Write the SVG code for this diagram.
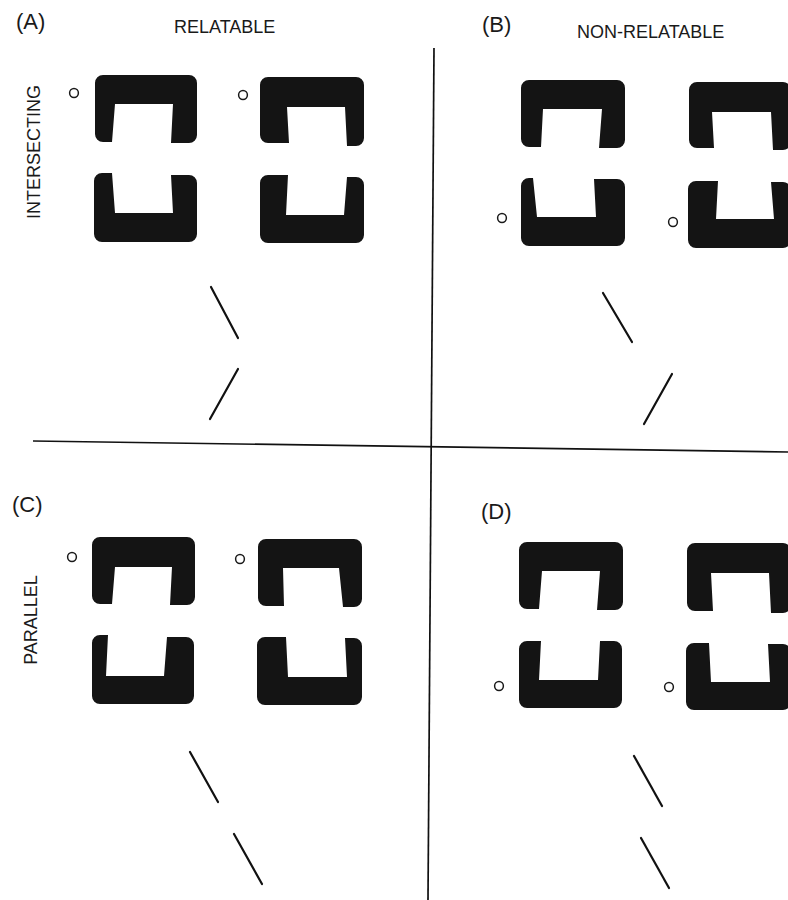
<svg xmlns="http://www.w3.org/2000/svg" width="788" height="900" viewBox="0 0 788 900">
<style>
.bg{fill:#ffffff}
.shape{fill:#141414}
.dot{fill:none;stroke:#1a1a1a;stroke-width:1.5}
.seg{stroke:#111;stroke-width:2.2;stroke-linecap:round;fill:none}
.div{stroke:#111;stroke-width:1.7;fill:none}
.lbl{font-family:"Liberation Sans",Arial,sans-serif;fill:#1a1a1a}
.big{font-size:22px}
.cap{font-size:18px}
</style>
<rect class="bg" x="0" y="0" width="788" height="900"/>
<g id="dividers">
<line class="div" x1="33" y1="441" x2="788" y2="452"/>
<line class="div" x1="434" y1="48" x2="428" y2="900"/>
</g>
<g id="labels">
<text class="lbl big" x="16" y="29">(A)</text>
<text class="lbl cap" x="174" y="33">RELATABLE</text>
<text class="lbl big" x="482" y="32">(B)</text>
<text class="lbl cap" x="577" y="38">NON-RELATABLE</text>
<text class="lbl big" x="12" y="512">(C)</text>
<text class="lbl big" x="481" y="519">(D)</text>
<text class="lbl cap" transform="translate(40,152) rotate(-90)" text-anchor="middle">INTERSECTING</text>
<text class="lbl cap" transform="translate(37,620) rotate(-90)" text-anchor="middle">PARALLEL</text>
</g>
<g id="panel-A">
<circle class="dot" cx="74" cy="93" r="4.4"/>
<path class="shape" d="M103,75 H189 A8,8 0 0 1 197,83 V135 A8,8 0 0 1 189,143 H171 L173,104 H115 L112,142 H103 A8,8 0 0 1 95,134 V83 A8,8 0 0 1 103,75 Z"/>
<path class="shape" d="M94,181 A8,8 0 0 1 102,173 H112 L115,213 H173 L171,175 H189 A8,8 0 0 1 197,183 V234 A8,8 0 0 1 189,242 H102 A8,8 0 0 1 94,234 Z"/>
<circle class="dot" cx="243" cy="95" r="4.4"/>
<path class="shape" d="M268,77 H356 A8,8 0 0 1 364,85 V138 A8,8 0 0 1 356,146 H347 L345,107 H287 L289,143 H268 A8,8 0 0 1 260,135 V85 A8,8 0 0 1 268,77 Z"/>
<path class="shape" d="M260,183 A8,8 0 0 1 268,175 H288 L286,215 H344 L347,177 H356 A8,8 0 0 1 364,185 V235 A8,8 0 0 1 356,243 H268 A8,8 0 0 1 260,235 Z"/>
<line class="seg" x1="211" y1="287" x2="238" y2="338"/>
<line class="seg" x1="238" y1="369" x2="210" y2="419"/>
</g>
<g id="panel-B">
<circle class="dot" cx="502" cy="218" r="4.4"/>
<path class="shape" d="M529,80 H617 A8,8 0 0 1 625,88 V140 A8,8 0 0 1 617,148 H599 L602,109 H543 L541,147 H529 A8,8 0 0 1 521,139 V88 A8,8 0 0 1 529,80 Z"/>
<path class="shape" d="M521,186 A8,8 0 0 1 529,178 H533 L537,217 H596 L594,179 H617 A8,8 0 0 1 625,187 V238 A8,8 0 0 1 617,246 H529 A8,8 0 0 1 521,238 Z"/>
<circle class="dot" cx="673" cy="222" r="4.4"/>
<path class="shape" d="M697,82 H783 A8,8 0 0 1 791,90 V142 A8,8 0 0 1 783,150 H773 L771,112 H712 L714,148 H697 A8,8 0 0 1 689,140 V90 A8,8 0 0 1 697,82 Z"/>
<path class="shape" d="M688,189 A8,8 0 0 1 696,181 H718 L716,219 H774 L771,182 H783 A8,8 0 0 1 791,190 V240 A8,8 0 0 1 783,248 H696 A8,8 0 0 1 688,240 Z"/>
<line class="seg" x1="603" y1="293" x2="632" y2="342"/>
<line class="seg" x1="672" y1="374" x2="644" y2="424"/>
</g>
<g id="panel-C">
<circle class="dot" cx="72" cy="557" r="4.4"/>
<path class="shape" d="M100,537 H187 A8,8 0 0 1 195,545 V597 A8,8 0 0 1 187,605 H170 L172,567 H115 L112,604 H100 A8,8 0 0 1 92,596 V545 A8,8 0 0 1 100,537 Z"/>
<path class="shape" d="M92,643 A8,8 0 0 1 100,635 H108 L106,676 H164 L167,637 H186 A8,8 0 0 1 194,645 V696 A8,8 0 0 1 186,704 H100 A8,8 0 0 1 92,696 Z"/>
<circle class="dot" cx="240" cy="559" r="4.4"/>
<path class="shape" d="M266,539 H354 A8,8 0 0 1 362,547 V599 A8,8 0 0 1 354,607 H343 L339,568 H283 L284,606 H266 A8,8 0 0 1 258,598 V547 A8,8 0 0 1 266,539 Z"/>
<path class="shape" d="M257,645 A8,8 0 0 1 265,637 H286 L288,677 H347 L345,638 H354 A8,8 0 0 1 362,646 V697 A8,8 0 0 1 354,705 H265 A8,8 0 0 1 257,697 Z"/>
<line class="seg" x1="190" y1="752" x2="218" y2="802"/>
<line class="seg" x1="234" y1="834" x2="262" y2="884"/>
</g>
<g id="panel-D">
<circle class="dot" cx="499" cy="686" r="4.4"/>
<path class="shape" d="M527,542 H615 A8,8 0 0 1 623,550 V602 A8,8 0 0 1 615,610 H597 L600,571 H542 L539,609 H527 A8,8 0 0 1 519,601 V550 A8,8 0 0 1 527,542 Z"/>
<path class="shape" d="M519,649 A8,8 0 0 1 527,641 H541 L539,680 H598 L600,641 H614 A8,8 0 0 1 622,649 V700 A8,8 0 0 1 614,708 H527 A8,8 0 0 1 519,700 Z"/>
<circle class="dot" cx="669" cy="687" r="4.4"/>
<path class="shape" d="M695,543 H783 A8,8 0 0 1 791,551 V605 A8,8 0 0 1 783,613 H771 L769,573 H711 L713,611 H695 A8,8 0 0 1 687,603 V551 A8,8 0 0 1 695,543 Z"/>
<path class="shape" d="M686,651 A8,8 0 0 1 694,643 H709 L711,682 H770 L768,644 H783 A8,8 0 0 1 791,652 V702 A8,8 0 0 1 783,710 H694 A8,8 0 0 1 686,702 Z"/>
<line class="seg" x1="634" y1="756" x2="662" y2="806"/>
<line class="seg" x1="641" y1="838" x2="669" y2="888"/>
</g>
</svg>
